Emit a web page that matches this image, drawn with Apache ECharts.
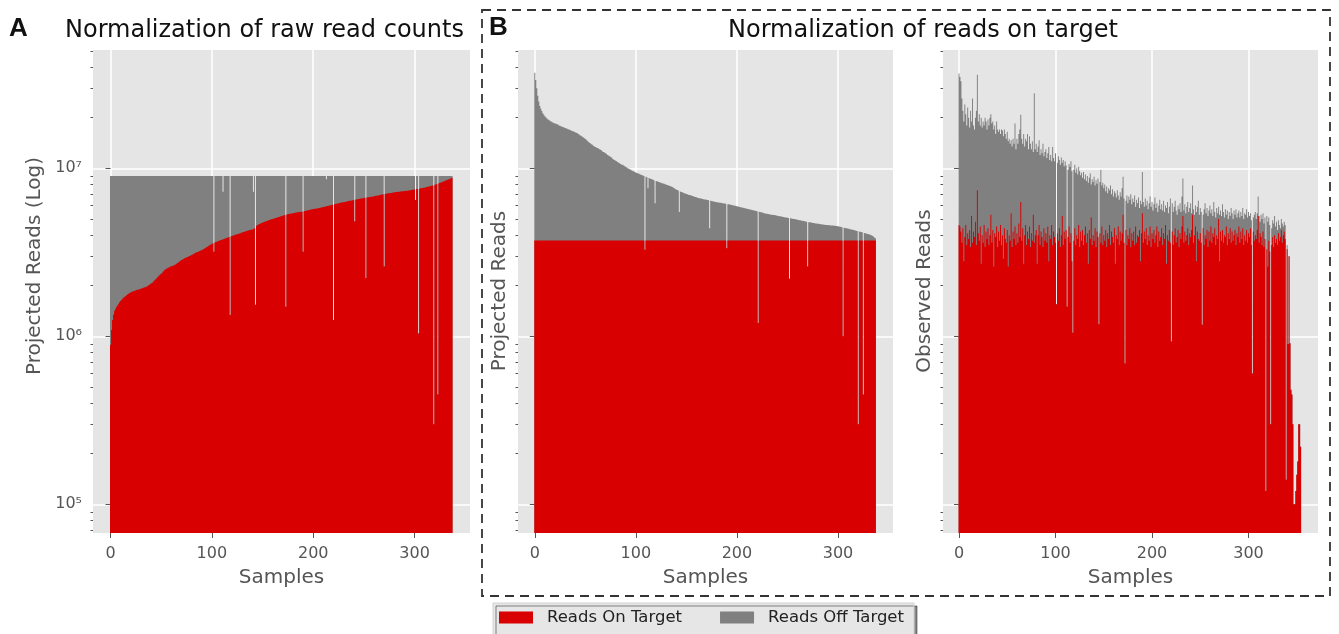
<!DOCTYPE html>
<html><head><meta charset="utf-8">
<script src="https://cdn.jsdelivr.net/npm/echarts@6/dist/echarts.min.js"></script>
<style>html,body{margin:0;padding:0;background:#fff}#c{width:1339px;height:634px}</style>
</head><body><div id="c"></div>
<script>
// ---------- DATA (reads in millions) ----------
// Panel A: on-target reads per sample, projected to a common total
const onTargetA = [
0.89,1.09,1.25,1.35,1.42,1.46,1.5,1.53,1.56,1.6,1.63,1.65,1.68,1.7,1.72,1.74,1.76,1.78,1.8,1.81,
1.83,1.84,1.85,1.86,1.87,1.88,1.89,1.89,1.9,1.91,1.92,1.93,1.94,1.95,1.96,1.97,1.98,2.0,2.02,2.04,
2.06,2.08,2.11,2.14,2.17,2.2,2.23,2.27,2.3,2.33,2.36,2.39,2.43,2.47,2.5,2.52,2.54,2.56,2.58,2.6,
2.61,2.62,2.64,2.66,2.68,2.7,2.73,2.76,2.79,2.82,2.85,2.87,2.89,2.91,2.93,2.95,2.97,2.99,3.01,3.03,
3.05,3.07,3.09,3.12,3.14,3.16,3.18,3.2,3.22,3.24,3.26,3.28,3.31,3.34,3.37,3.4,3.43,3.46,3.49,3.52,
3.55,3.58,3.6,3.62,3.64,3.66,3.68,3.7,3.72,3.74,3.76,3.78,3.8,3.82,3.84,3.86,3.88,3.9,3.92,3.94,
3.96,3.98,4.0,4.02,4.04,4.05,4.07,4.09,4.11,4.13,4.15,4.17,4.19,4.21,4.23,4.25,4.27,4.29,4.3,4.32,
4.33,4.35,4.4,4.48,4.55,4.6,4.63,4.66,4.69,4.72,4.75,4.78,4.8,4.83,4.86,4.88,4.9,4.93,4.95,4.97,
4.99,5.01,5.04,5.06,5.08,5.11,5.13,5.15,5.18,5.2,5.22,5.25,5.27,5.29,5.31,5.32,5.34,5.36,5.38,5.39,
5.41,5.42,5.44,5.45,5.47,5.48,5.49,5.5,5.51,5.52,5.54,5.55,5.57,5.58,5.6,5.62,5.64,5.66,5.68,5.7,
5.72,5.73,5.75,5.76,5.77,5.78,5.8,5.82,5.84,5.86,5.88,5.9,5.92,5.94,5.96,5.98,6.0,6.02,6.04,6.07,
6.09,6.11,6.13,6.15,6.17,6.19,6.21,6.23,6.25,6.27,6.29,6.31,6.33,6.35,6.37,6.39,6.4,6.42,6.44,6.46,
6.48,6.5,6.52,6.54,6.55,6.57,6.59,6.6,6.62,6.64,6.65,6.67,6.68,6.7,6.72,6.73,6.75,6.77,6.78,6.8,
6.82,6.84,6.86,6.88,6.9,6.92,6.94,6.96,6.98,7.0,7.02,7.04,7.06,7.08,7.1,7.11,7.13,7.14,7.16,7.17,
7.19,7.2,7.22,7.23,7.25,7.26,7.27,7.29,7.3,7.31,7.32,7.33,7.35,7.36,7.38,7.39,7.41,7.43,7.45,7.47,
7.49,7.5,7.52,7.54,7.56,7.58,7.6,7.61,7.63,7.65,7.67,7.7,7.73,7.76,7.79,7.82,7.85,7.88,7.91,7.94,
7.98,8.02,8.06,8.1,8.14,8.18,8.22,8.27,8.32,8.37,8.42,8.47,8.52,8.57,8.62,8.68,8.74,8.8];
const projectedTotalA = 9.0;
// samples whose bar top is lower than the rest: [sample, top]
const dipsA = [[102,3.19],[111,7.26],[118,1.34],[141,7.26],[143,1.54],[173,1.5],[190,3.19],[213,8.6],
[220,1.25],[241,4.82],[252,2.22],[270,2.6],[301,6.48],[304,1.04],[319,0.3],[323,0.45]];

// Panel B: total reads per sample when on-target reads are projected to a common value
const totalB = [
37.0,33.5,30.0,27.0,25.0,23.5,22.6,21.9,21.3,20.8,20.4,20.1,19.8,19.6,19.4,19.2,19.0,18.9,18.7,18.6,
18.5,18.4,18.3,18.2,18.0,17.9,17.8,17.7,17.6,17.5,17.4,17.3,17.2,17.1,17.0,16.9,16.8,16.7,16.6,16.5,
16.4,16.3,16.2,16.0,15.9,15.7,15.6,15.4,15.3,15.1,15.0,14.8,14.6,14.4,14.2,14.1,13.9,13.8,13.6,13.5,
13.4,13.3,13.2,13.1,13.0,12.9,12.8,12.6,12.5,12.4,12.3,12.2,12.0,11.9,11.8,11.7,11.6,11.4,11.3,11.2,
11.1,11.0,10.9,10.8,10.7,10.6,10.5,10.5,10.4,10.3,10.2,10.1,10.0,9.95,9.88,9.8,9.72,9.65,9.58,9.5,
9.43,9.38,9.33,9.28,9.22,9.17,9.11,9.05,9.0,8.95,8.9,8.85,8.8,8.75,8.7,8.65,8.6,8.55,8.5,8.45,
8.4,8.36,8.32,8.28,8.24,8.2,8.16,8.12,8.08,8.04,8.0,7.96,7.92,7.88,7.84,7.8,7.75,7.68,7.6,7.53,
7.47,7.42,7.37,7.32,7.27,7.23,7.19,7.15,7.11,7.07,7.03,7.0,6.97,6.94,6.91,6.88,6.85,6.82,6.78,6.75,
6.72,6.69,6.66,6.64,6.62,6.6,6.57,6.55,6.53,6.51,6.49,6.47,6.45,6.43,6.41,6.39,6.37,6.35,6.33,6.31,
6.29,6.28,6.26,6.24,6.23,6.21,6.2,6.18,6.17,6.15,6.14,6.12,6.1,6.09,6.07,6.05,6.03,6.01,5.99,5.97,
5.95,5.93,5.91,5.89,5.87,5.85,5.83,5.81,5.79,5.77,5.75,5.73,5.71,5.69,5.67,5.65,5.63,5.61,5.59,5.57,
5.55,5.53,5.51,5.49,5.47,5.45,5.43,5.41,5.39,5.37,5.36,5.34,5.33,5.31,5.3,5.29,5.28,5.27,5.25,5.24,
5.22,5.21,5.19,5.18,5.16,5.15,5.13,5.12,5.1,5.09,5.07,5.06,5.05,5.04,5.03,5.01,5.0,4.99,4.97,4.96,
4.94,4.93,4.91,4.9,4.88,4.87,4.85,4.84,4.82,4.81,4.79,4.78,4.77,4.76,4.75,4.73,4.72,4.71,4.7,4.69,
4.68,4.67,4.66,4.65,4.64,4.63,4.62,4.61,4.6,4.6,4.59,4.58,4.58,4.57,4.56,4.56,4.55,4.55,4.54,4.53,
4.52,4.51,4.49,4.48,4.46,4.45,4.43,4.42,4.4,4.39,4.37,4.36,4.34,4.33,4.32,4.3,4.29,4.27,4.25,4.24,
4.22,4.21,4.19,4.18,4.16,4.14,4.12,4.11,4.09,4.07,4.06,4.04,4.02,4.0,3.97,3.93,3.88,3.83];
const projectedOnTargetB = 3.72;
const dipsB = [[109,3.27],[112,7.6],[119,6.19],[143,5.5],[173,4.39],[190,3.34],[221,1.2],[252,2.2],
[270,2.6],[305,1.0],[320,0.3],[325,0.45]];

// Panel C: observed reads per sample
const totalC = [
36.7,35,33,26,22,19,24,21,18,23, 20,17.5,22,19,26,18,17,20,22,36,
19,21,18,20,17.5,19,18,20,19,17, 19.5,18,20,21,18.5,19,17,18,16,19,
17,16.5,17,16,17,16.8,15.5,17,16,15, 16.5,14.5,15,14,14.7,13.5,15,14,18.5,13,
15,14,16,17,20.8,15,14,16,13.5,15, 14.5,16,13,15.5,14,13,14.5,12.5,28,13,
14,12.5,13.5,14.7,12,13,12.3,14,11.8,12.5, 13,11.5,12.3,13.4,11.2,12,11,13.4,11.5,11,
12.3,11.2,10.8,11.8,11.2,10.5,11.6,10.8,11.2,10.3, 11,10.4,10.8,9.8,10.6,10.2,11,9.6,10.1,9.8,
10.5,9.4,10,9.2,10.2,9.6,9.1,9.4,8.8,9.5, 8.6,9.2,8.4,9,8.2,8.8,9.3,8,8.6,8.3,
8.9,7.9,8.5,8.1,8.7,7.8,8.3,9.8,7.9,8.2, 7.6,8,7.3,7.8,7.1,7.6,7.4,7.9,7,7.5,
6.8,7.3,7.1,6.7,7.4,6.9,6.5,7.2,6.8,7.6, 8.9,6.6,7,6.4,6.9,6.2,6.8,6.5,7,6.1,
6.6,6.3,6.9,5.9,6.5,6.2,6.7,5.8,6.4,6.1, 9.5,6.3,5.9,6.6,6,6.4,5.7,6.2,6.8,5.9,
6.3,5.6,6.1,6.7,5.8,6.2,5.5,6,6.5,5.7, 6.1,5.6,6.4,5.5,6,5.8,6.3,5.4,5.9,6.6,
5.7,6.2,5.5,5.9,6.4,5.6,5.3,6,5.7,6.2, 5.5,6.8,8.7,5.6,6.1,5.4,5.9,6.3,5.5,5.8,
6.2,5.4,7.9,5.7,5.3,6,5.5,5.9,6.4,5.3, 5.8,5.5,6.1,5.3,5.7,6.2,5.4,5.8,5.2,5.6,
6,5.4,5.7,5.2,6.3,5.5,5.1,5.8,5.4,5.9, 5.3,5.6,5.2,6.1,5.5,5.1,5.7,5.3,5.6,5,
5.5,5.2,5.8,5.4,5,5.6,5.3,5.7,5.1,5.4, 5.6,5.1,5.5,5.2,5.8,5,5.4,5.3,5.7,5.1,
5.5,5.2,5.4,4.9,5.6,5.1,5.3,5.5,5,5.4, 6.8,5.2,4.8,5.3,5,5.4,4.7,5.1,4.9,5.2,
4.8,5.1,4.6,5,4.4,4.9,4.7,5.2,4.5,4.8, 4.3,4.9,4.6,4.4,5,4.7,4.5,4.8,4.6,4.6,
3.5,0.9,3.0,0.91,0.48,0.45,0.3,0.1,0.1,0.12, 0.15,0.18,0.3,0.3,0.22];
const onTargetC = [
4.6,4.5,4.2,3.6,4.4,2.8,3.9,4.6,3.5,4.1, 3.8,4.3,3.4,5.2,3.6,4.2,3.9,4.8,3.5,7.4,
4.1,3.7,4.5,2.7,4.0,3.6,4.6,3.4,4.2,3.8, 4.4,3.5,4.0,5.3,3.6,4.3,2.6,4.1,3.9,4.5,
3.4,4.2,3.7,4.6,3.5,4.0,2.9,4.4,3.8,3.6, 4.3,2.6,4.0,3.7,5.4,3.4,4.2,3.8,4.5,3.5,
4.1,3.6,4.7,3.9,6.3,3.7,4.4,2.7,4.0,4.6, 3.5,4.2,3.8,4.5,3.4,4.1,3.7,5.3,3.6,4.0,
4.3,2.7,4.0,4.6,3.5,4.2,3.9,3.4,4.4,3.7, 4.1,3.6,4.5,2.8,4.0,3.8,4.6,3.5,4.2,3.9,
3.6,4.3,4.1,3.7,4.4,3.4,4.0,5.2,3.5,4.2, 3.8,4.3,3.6,3.9,4.5,3.6,4.1,2.8,4.0,3.7,
4.4,3.5,4.0,3.8,4.6,3.4,4.2,3.7,4.3,3.5, 4.0,4.5,3.6,4.1,2.7,4.3,3.8,5.1,3.5,4.0,
3.7,4.4,3.4,4.2,3.9,3.8,4.1,3.6,4.5,3.5, 4.0,3.7,4.3,3.4,4.1,3.8,4.6,3.5,4.2,3.9,
3.6,4.4,2.7,4.0,3.8,4.5,3.5,4.2,3.7,4.1, 5.3,3.6,4.1,4.3,3.5,4.0,3.8,4.4,3.4,4.1,
3.7,4.2,3.5,4.5,3.6,4.0,3.9,4.3,2.8,4.1, 5.4,3.6,4.2,3.8,4.4,3.5,4.0,3.7,4.5,3.4,
4.1,3.8,4.3,3.6,4.0,4.5,3.4,4.2,3.7,3.9, 4.4,3.5,4.1,3.8,4.6,2.7,4.0,3.7,4.3,3.6,
3.9,4.2,3.5,4.0,4.4,3.6,3.9,4.3,3.4,4.1, 3.8,4.5,5.2,3.6,4.2,3.7,4.0,4.4,3.5,4.1,
3.9,4.3,5.3,3.6,4.0,4.5,2.8,4.2,3.8,3.7, 4.1,3.6,4.0,4.4,3.5,4.0,3.8,4.3,3.4,4.2,
3.7,4.5,3.6,4.1,3.9,4.4,3.5,4.0,3.8,5.0, 2.8,4.2,3.7,4.3,3.6,4.0,3.9,4.5,3.5,4.1,
3.8,4.4,3.6,4.2,3.7,4.0,4.3,3.5,4.1,3.9, 4.5,3.6,4.2,3.8,4.4,3.5,4.0,3.7,4.3,3.6,
4.1,3.9,4.4,3.5,3.9,4.2,3.7,4.0,3.8,4.3, 5.2,3.6,4.1,3.9,3.5,4.2,3.4,3.8,3.7,3.3,
2.6,3.7,3.2,3.5,3.5,3.9,3.4,4.0,3.6,3.8, 3.5,4.1,3.7,3.9,4.3,3.6,4.0,4.2,3.8,3.9,
3.3,0.9,3.0,0.91,0.48,0.45,0.3,0.1,0.1,0.12, 0.15,0.18,0.3,0.3,0.22];
const dipsC = [[101,1.55],[112,1.5],[118,1.05],[145,1.18],[172,0.69],[220,0.93],[252,1.17],
[304,0.6],[318,0.12],[323,0.3],[339,0.14]];

// Axis ticks and labels
const xTicks = [0, 100, 200, 300];
const yMajorTicks = [1e5, 1e6, 1e7];
const yTickLabels = ['10\u2075', '10\u2076', '10\u2077'];
const yMinorTicks = [7e4,8e4,9e4,2e5,3e5,4e5,5e5,6e5,7e5,8e5,9e5,2e6,3e6,4e6,5e6,6e6,7e6,8e6,9e6,2e7,3e7,4e7,5e7];
const seriesNames = ['Reads On Target', 'Reads Off Target'];

// ---------- BUILD ----------
const M = 1e6;
function panelData(n, totalAt, onAt, dips) {
  const dipMap = new Map(dips);
  const tot = [], on = [];
  for (let i = 0; i < n; i++) {
    let t = totalAt(i), o = Math.min(onAt(i), t);
    if (dipMap.has(i)) { const d = dipMap.get(i); t = Math.min(t, d); o = Math.min(o, d); }
    tot.push([i, t * M]); on.push([i, o * M]);
  }
  return { tot, on };
}
const pA = panelData(onTargetA.length, () => projectedTotalA, i => onTargetA[i], dipsA);
const pB = panelData(totalB.length, i => totalB[i], () => projectedOnTargetB, dipsB);
const pC = panelData(totalC.length, i => totalC[i], i => onTargetC[i], dipsC);

const FONT = 'DejaVu Sans';
const RED = '#d80000', GRAY = '#808080', BG = '#e5e5e5', TXT = '#555';
const Y_MIN = 6.75e4, Y_MAX = 5.06e7;
const grids = [
  { left: 93, top: 50, width: 377, height: 483, xMin: -17.3, xMax: 354.7 },
  { left: 518, top: 50, width: 375, height: 483, xMin: -16.6, xMax: 354.4 },
  { left: 943, top: 50, width: 375, height: 483, xMin: -16.6, xMax: 372 }
];
const panels = [pA, pB, pC];

const option = {
  animation: false,
  textStyle: { fontFamily: FONT },
  grid: grids.map(g => ({ left: g.left, top: g.top, width: g.width, height: g.height,
    show: true, backgroundColor: BG, borderWidth: 0, containLabel: false, outerBoundsMode: 'none' })),
  xAxis: grids.map((g, k) => ({
    type: 'value', gridIndex: k, min: g.xMin, max: g.xMax,
    axisLine: { show: false },
    axisTick: { show: true, length: 5, customValues: xTicks, lineStyle: { color: TXT, width: 1 } },
    axisLabel: { customValues: xTicks, fontSize: 16, color: TXT, margin: 13, fontFamily: FONT },
    splitLine: { show: true, lineStyle: { color: '#ffffff', width: 1.5 } },
    name: 'Samples', nameLocation: 'middle', nameGap: 35,
    nameTextStyle: { fontSize: 20, color: TXT, fontFamily: FONT }
  })),
  yAxis: [],
  series: [],
  legend: {
    data: seriesNames, left: 493, top: 603, orient: 'horizontal',
    itemWidth: 34, itemHeight: 12, itemGap: 38, icon: 'rect', selectedMode: false,
    backgroundColor: '#e6e6e6', borderColor: '#d2d2d2', borderWidth: 1, borderRadius: 0,
    padding: [6, 10, 10, 6],
    shadowColor: 'rgba(0,0,0,0.45)', shadowOffsetX: 3, shadowOffsetY: 3, shadowBlur: 0,
    textStyle: { fontSize: 16.5, color: '#222', fontFamily: FONT, padding: [0, 0, 0, 9] }
  },
  graphic: [
    { type: 'rect', shape: { x: 482, y: 10, width: 848, height: 586 },
      style: { fill: 'none', stroke: '#333', lineWidth: 1.8, lineDash: [9, 6] } },
    { type: 'text', x: 9, y: 29, style: { text: 'A', fontSize: 26, fontWeight: 'bold', fontFamily: 'Liberation Sans', fill: '#111', textAlign: 'left', textVerticalAlign: 'middle', align: 'left', verticalAlign: 'middle' } },
    { type: 'text', x: 489, y: 28, style: { text: 'B', fontSize: 26, fontWeight: 'bold', fontFamily: 'Liberation Sans', fill: '#111', textAlign: 'left', textVerticalAlign: 'middle', align: 'left', verticalAlign: 'middle' } },
    { type: 'text', x: 65, y: 31, style: { text: 'Normalization of raw read counts', fontSize: 24, fontFamily: FONT, fill: '#111', textAlign: 'left', textVerticalAlign: 'middle', align: 'left', verticalAlign: 'middle' } },
    { type: 'text', x: 728, y: 31, style: { text: 'Normalization of reads on target', fontSize: 24, fontFamily: FONT, fill: '#111', textAlign: 'left', textVerticalAlign: 'middle', align: 'left', verticalAlign: 'middle' } },
    { type: 'text', x: 35, y: 266, rotation: Math.PI / 2, style: { text: 'Projected Reads (Log)', fontSize: 20, fontFamily: FONT, fill: TXT, textAlign: 'center', textVerticalAlign: 'middle', align: 'center', verticalAlign: 'middle' } },
    { type: 'text', x: 500, y: 291, rotation: Math.PI / 2, style: { text: 'Projected Reads', fontSize: 20, fontFamily: FONT, fill: TXT, textAlign: 'center', textVerticalAlign: 'middle', align: 'center', verticalAlign: 'middle' } },
    { type: 'text', x: 925, y: 291, rotation: Math.PI / 2, style: { text: 'Observed Reads', fontSize: 20, fontFamily: FONT, fill: TXT, textAlign: 'center', textVerticalAlign: 'middle', align: 'center', verticalAlign: 'middle' } }
  ]
};

function tickLabel(v) {
  const idx = yMajorTicks.findIndex(t => Math.abs(t - v) / t < 1e-6);
  return idx >= 0 ? yTickLabels[idx] : '';
}

grids.forEach((g, k) => {
  option.yAxis.push({
    type: 'log', logBase: 10, gridIndex: k, position: 'left', min: Y_MIN, max: Y_MAX,
    axisLine: { show: false },
    axisTick: { show: true, length: 5, customValues: yMajorTicks, lineStyle: { color: TXT, width: 1 } },
    axisLabel: { show: k === 0, customValues: yMajorTicks, formatter: tickLabel, fontSize: 16, color: TXT, margin: 11, fontFamily: FONT },
    splitLine: { show: true, lineStyle: { color: '#ffffff', width: 1.5 } },
    minorTick: { show: false }, minorSplitLine: { show: false }
  });
  option.yAxis.push({
    type: 'log', logBase: 10, gridIndex: k, position: 'left', offset: 0, min: Y_MIN, max: Y_MAX,
    axisLine: { show: false },
    axisTick: { show: true, length: 2.5, customValues: yMinorTicks, lineStyle: { color: TXT, width: 1 } },
    axisLabel: { show: false },
    splitLine: { show: false }
  });
  const p = panels[k];
  const common = { type: 'bar', xAxisIndex: k, yAxisIndex: 2 * k, barWidth: '100%', barGap: '-100%',
    large: true, largeThreshold: 50, silent: true, animation: false };
  option.series.push(Object.assign({}, common, { name: seriesNames[1], data: p.tot, itemStyle: { color: GRAY } }));
  option.series.push(Object.assign({}, common, { name: seriesNames[0], data: p.on, itemStyle: { color: RED } }));
});

const chart = echarts.init(document.getElementById('c'), null, { renderer: 'canvas' });
chart.setOption(option);
</script>
</body></html>
